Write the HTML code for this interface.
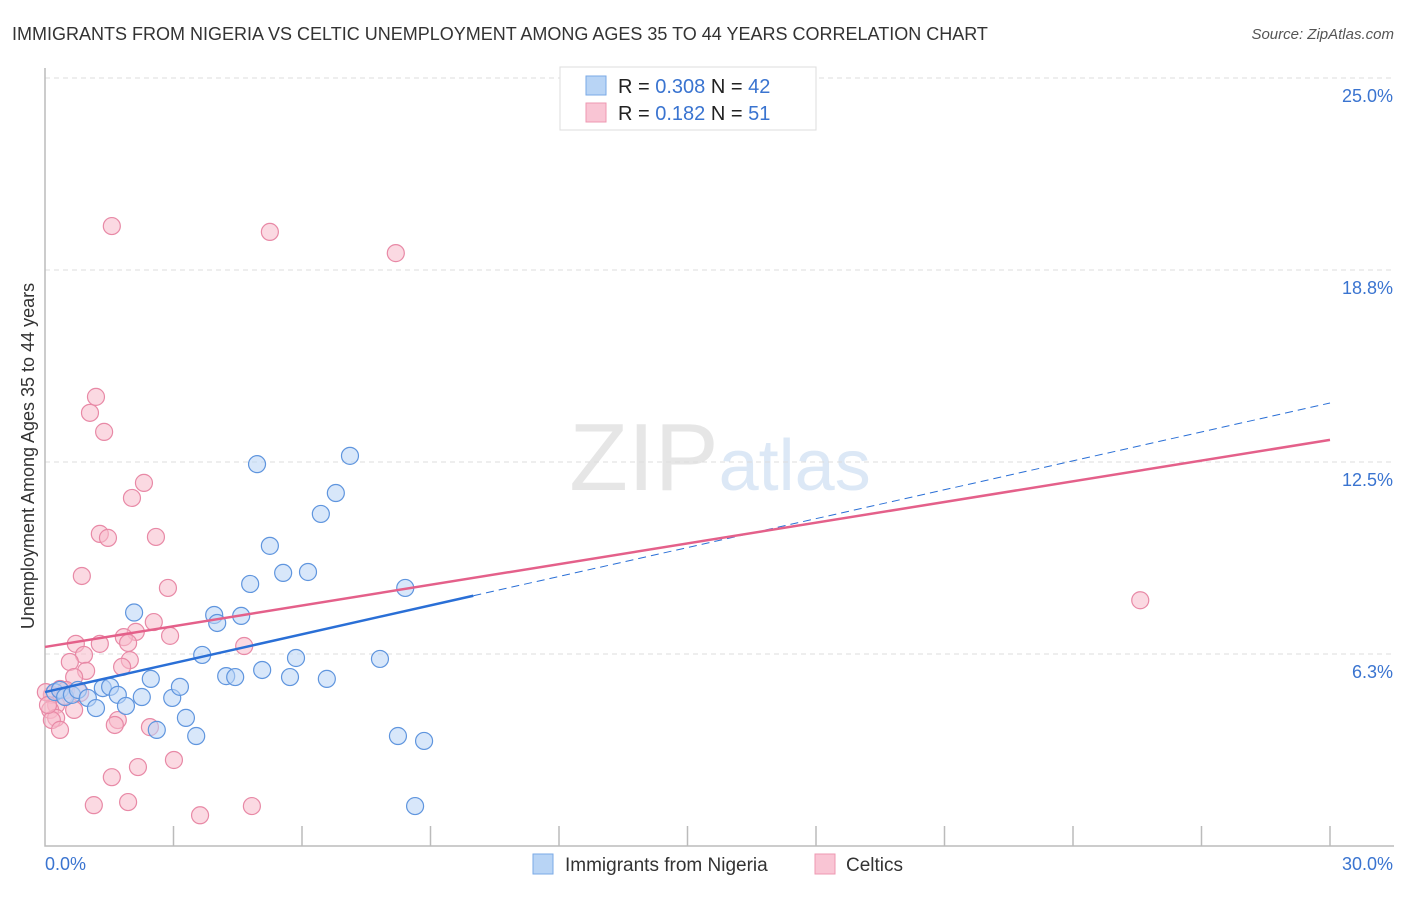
<!DOCTYPE html>
<html><head><meta charset="utf-8"><style>
body{margin:0;background:#fff;font-family:"Liberation Sans",sans-serif}
svg text{font-family:"Liberation Sans",sans-serif}
</style></head><body>
<svg width="1406" height="892" xmlns="http://www.w3.org/2000/svg" id="chart">
<text x="12" y="40" font-size="18" fill="#333">IMMIGRANTS FROM NIGERIA VS CELTIC UNEMPLOYMENT AMONG AGES 35 TO 44 YEARS CORRELATION CHART</text>
<text x="1394" y="39" font-size="15" fill="#555" text-anchor="end" font-style="italic">Source: ZipAtlas.com</text>
<text x="720" y="490" font-size="96" fill="#e6e6e6" text-anchor="middle" font-family="Liberation Serif">ZIP<tspan fill="#dce8f6" font-family="Liberation Sans" font-size="72">atlas</tspan></text>
<g id="grid"></g><g id="axes"></g><g id="pts"></g><g id="lines"></g>
<text transform="translate(34,456) rotate(-90)" font-size="18" fill="#333" text-anchor="middle">Unemployment Among Ages 35 to 44 years</text>
<g>
<rect x="560" y="67" width="256" height="63" fill="#fff" stroke="#ddd"/>
<rect x="586" y="76" width="20" height="19" fill="#b8d4f5" stroke="#7aaae6"/>
<rect x="586" y="103" width="20" height="19" fill="#f9c5d4" stroke="#ee98b2"/>
<text x="618" y="93" font-size="20" fill="#222">R = <tspan fill="#3a74d0">0.308</tspan>   N = <tspan fill="#3a74d0">42</tspan></text>
<text x="618" y="120" font-size="20" fill="#222">R =  <tspan fill="#3a74d0">0.182</tspan>   N =  <tspan fill="#3a74d0">51</tspan></text>
</g>
<g>
<rect x="533" y="854" width="20" height="20" fill="#b8d4f5" stroke="#7aaae6"/>
<text x="565" y="871" font-size="19" fill="#333">Immigrants from Nigeria</text>
<rect x="815" y="854" width="20" height="20" fill="#f9c5d4" stroke="#ee98b2"/>
<text x="846" y="871" font-size="19" fill="#333">Celtics</text>
</g>
</svg>
<script>
const xTicks=[0,30];
const yTicks=[6.3,12.5,18.8,25.0];
const yTickPos=[6.25,12.5,18.75,25];
const blueX=[0.23,0.35,0.47,0.63,0.77,1.0,1.19,1.35,1.52,1.7,1.89,2.08,2.26,2.47,2.61,2.97,3.15,3.29,3.53,3.67,3.95,4.02,4.23,4.44,4.58,4.79,4.95,5.07,5.25,5.56,5.72,5.86,6.14,6.44,6.58,6.79,7.12,7.82,8.24,8.41,8.64,8.85];
const blueY=[5.01,5.08,4.85,4.92,5.08,4.82,4.49,5.14,5.18,4.92,4.56,7.6,4.85,5.44,3.78,4.82,5.18,4.17,3.58,6.22,7.52,7.26,5.53,5.5,7.49,8.53,12.43,5.73,9.77,8.89,5.5,6.12,8.92,10.81,5.44,11.49,12.7,6.09,3.58,8.4,1.3,3.42];
const pinkX=[1.56,5.25,8.19,1.19,1.05,1.38,2.31,2.03,1.28,1.47,2.59,0.86,2.87,2.54,2.92,2.12,1.84,1.28,0.72,1.94,0.91,0.58,1.98,1.8,4.65,0.96,0.68,0.35,0.16,0.26,0.49,0.82,0.12,0.26,0.68,0.16,0.35,1.7,1.63,2.45,3.01,2.17,1.56,1.14,1.94,3.62,4.83,25.57,0.02,0.44,0.07];
const pinkY=[20.18,19.99,19.3,14.62,14.1,13.48,11.82,11.33,10.16,10.03,10.06,8.79,8.4,7.29,6.84,6.97,6.8,6.58,6.58,6.61,6.22,5.99,6.05,5.83,6.51,5.7,5.5,5.11,4.92,4.59,5.08,4.98,4.43,4.17,4.43,4.1,3.78,4.1,3.94,3.87,2.8,2.57,2.24,1.33,1.43,1.0,1.3,8.0,5.01,4.88,4.59];
const blueTrend=[5.01,14.42]; const blueSolidEnd=10;
const pinkTrend=[6.48,13.22];
const NS="http://www.w3.org/2000/svg";
const X=v=>45+v/30*1285, Y=v=>846-v*30.72;
function mk(t,a,p){const e=document.createElementNS(NS,t);for(const k in a)e.setAttribute(k,a[k]);p.appendChild(e);return e;}
const grid=document.getElementById('grid'),axes=document.getElementById('axes'),pts=document.getElementById('pts'),lines=document.getElementById('lines');
yTickPos.forEach((v,i)=>{
 const l=mk('line',{x1:45,x2:1394,y1:Y(v),y2:Y(v),stroke:'#ddd','stroke-dasharray':'5,4'},grid);
 
 
 const t=mk('text',{x:1393,y:Y(v)+24,'font-size':18,fill:'#3a74d0','text-anchor':'end'},grid);
 t.textContent=yTicks[i].toFixed(1)+'%';
 
 
});
const ax=mk('path',{d:'M45,68V846H1394',fill:'none',stroke:'#bbb','stroke-width':1.5},axes);


for(let i=1;i<=10;i++){const tk=mk('line',{x1:X(i*3),x2:X(i*3),y1:826,y2:846,stroke:'#bbb','stroke-width':1.5},axes);
 
 }
xTicks.forEach((v,i)=>{const t=mk('text',{x:i?1393:45,y:870,'font-size':18,fill:'#3a74d0','text-anchor':i?'end':'start'},axes);
 t.textContent=v.toFixed(1)+'%';
 
 });
function dots(xs,ys,f,s,name){xs.forEach((v,i)=>{const c=mk('circle',{cx:X(v),cy:Y(ys[i]),r:8.5,fill:f,'fill-opacity':0.55,stroke:s,'stroke-width':1.2},pts);
 
 });}
dots(pinkX,pinkY,'#f7b9cb','#e889a6','celtics-point');
dots(blueX,blueY,'#b8d4f5','#5f95de','nigeria-point');
const slope=(blueTrend[1]-blueTrend[0])/30;
const bs=mk('line',{x1:X(0),y1:Y(blueTrend[0]),x2:X(blueSolidEnd),y2:Y(blueTrend[0]+slope*blueSolidEnd),stroke:'#2a6fd6','stroke-width':2.5},lines);


const bd=mk('line',{x1:X(blueSolidEnd),y1:Y(blueTrend[0]+slope*blueSolidEnd),x2:X(30),y2:Y(blueTrend[1]),stroke:'#2a6fd6','stroke-width':1,'stroke-dasharray':'8,5'},lines);


const pl=mk('line',{x1:X(0),y1:Y(pinkTrend[0]),x2:X(30),y2:Y(pinkTrend[1]),stroke:'#e4608a','stroke-width':2.5},lines);


</script>
</body></html>
